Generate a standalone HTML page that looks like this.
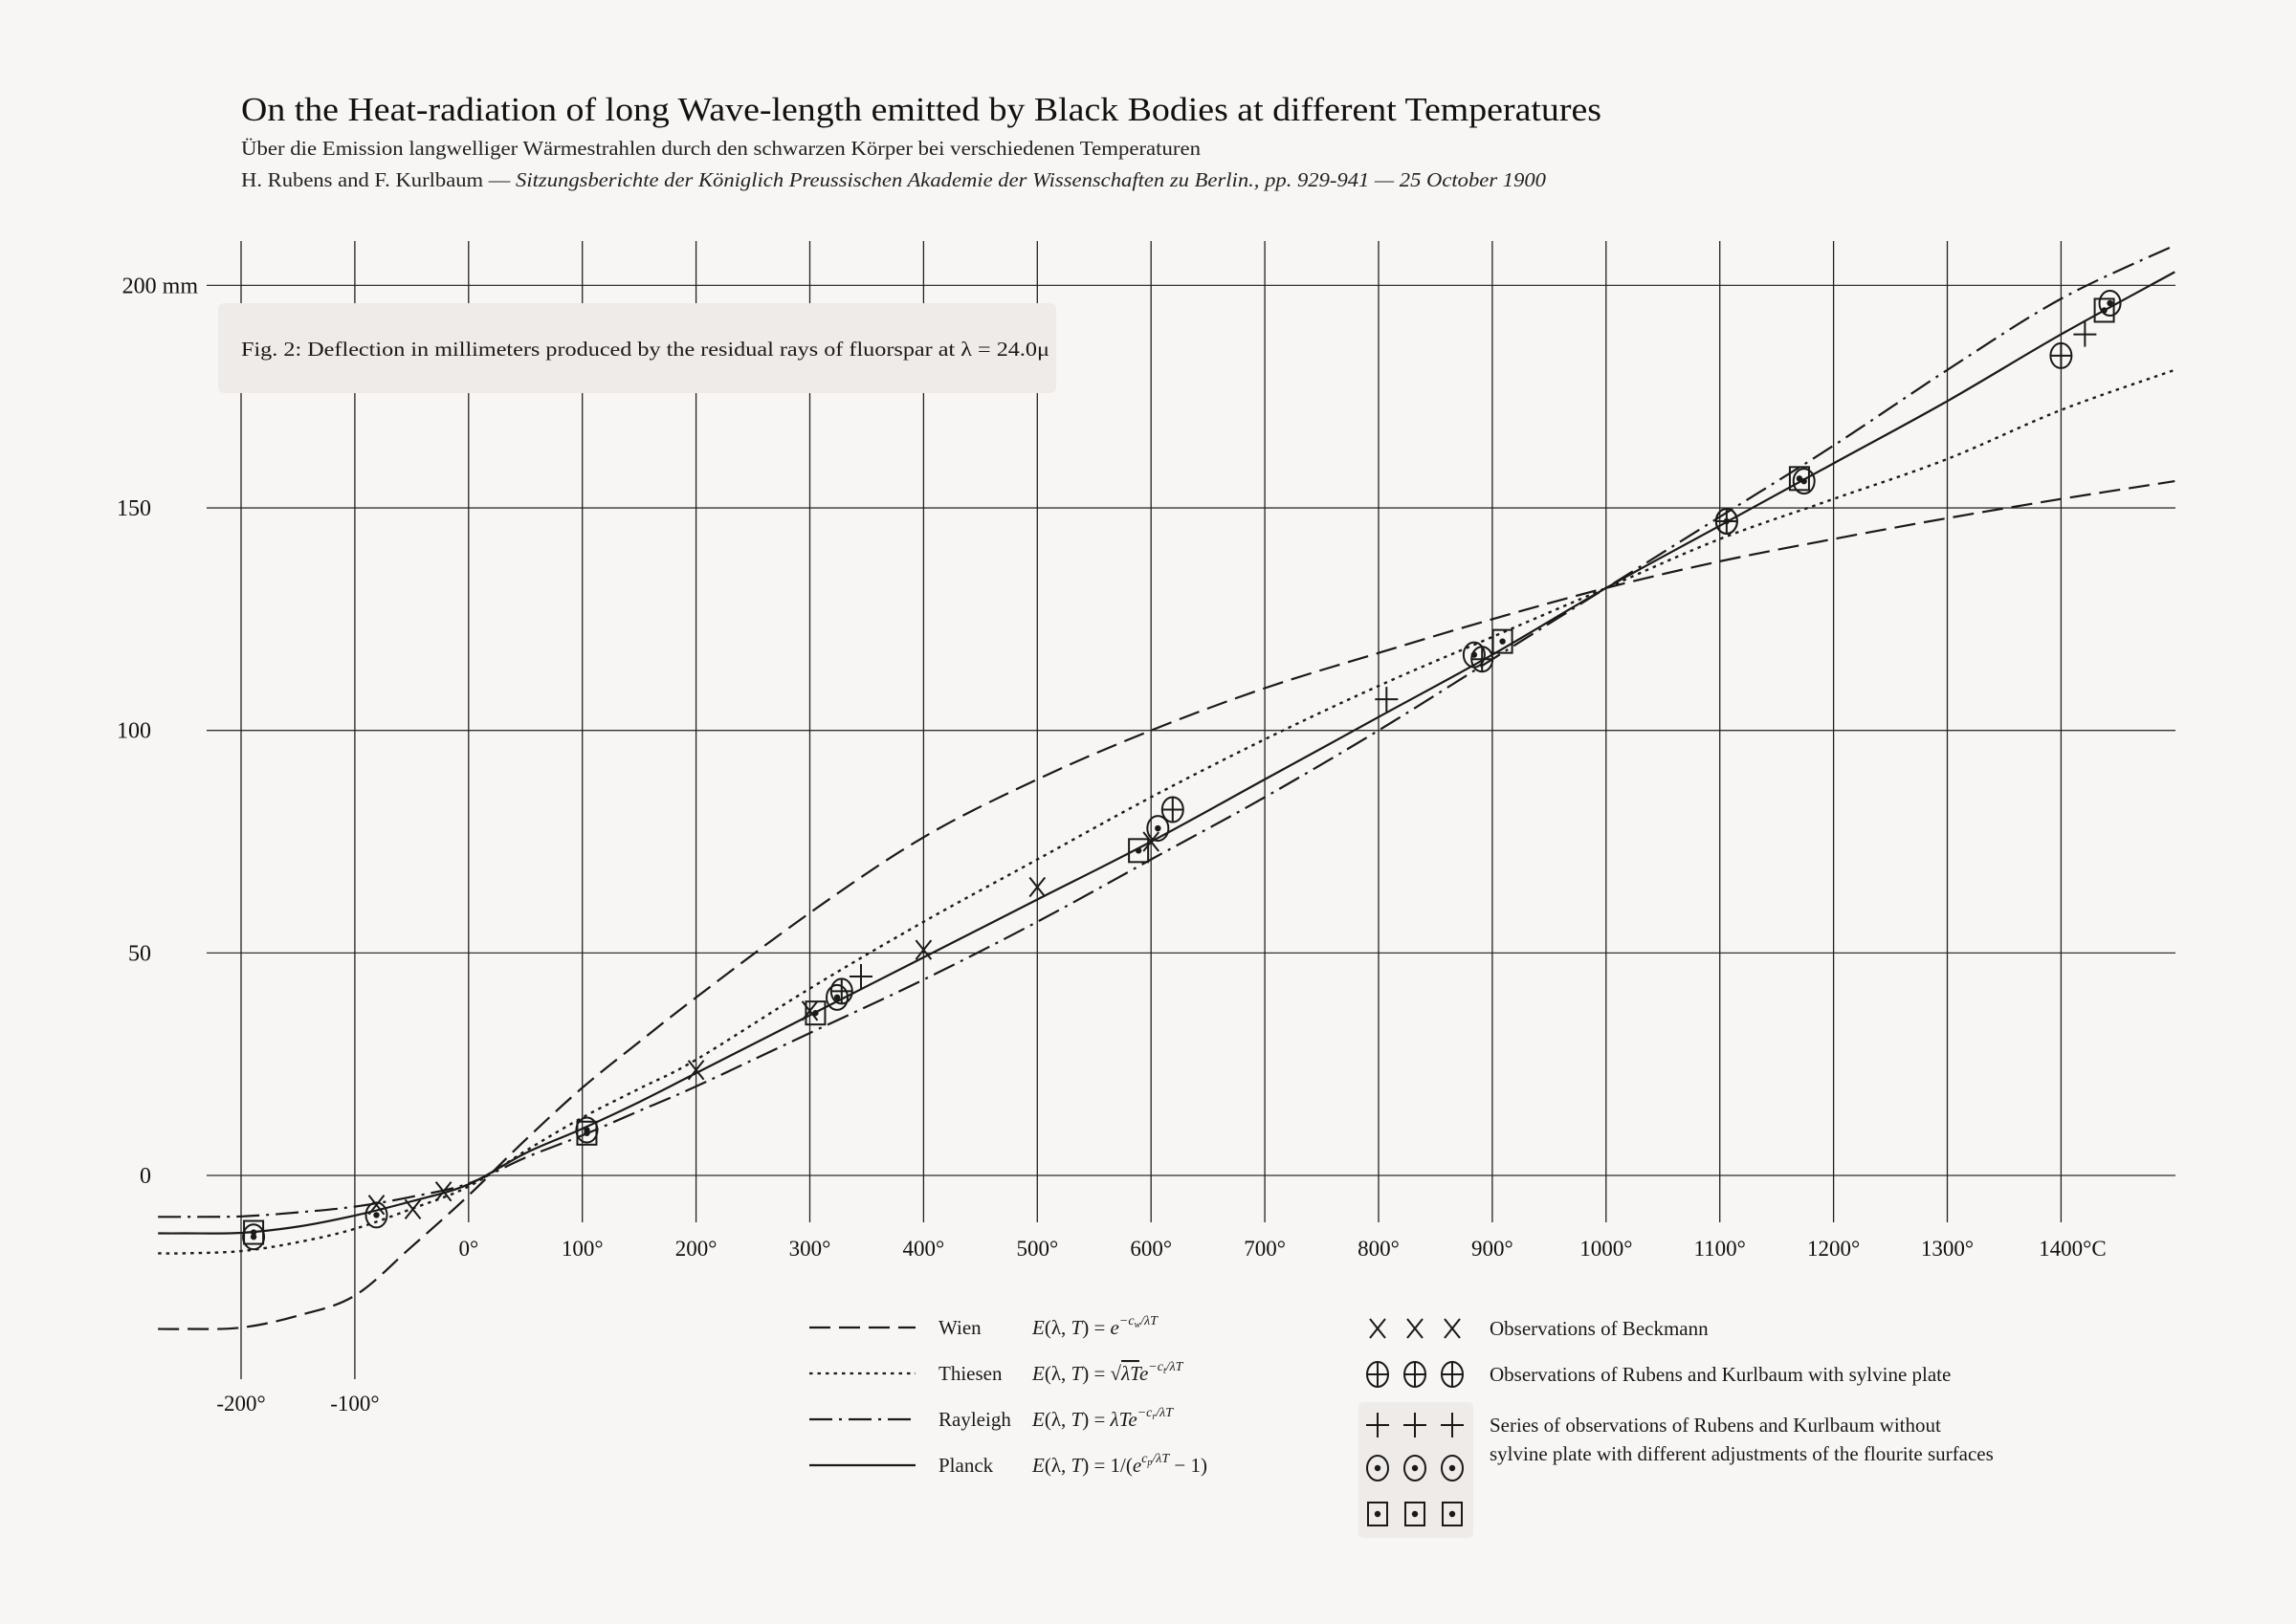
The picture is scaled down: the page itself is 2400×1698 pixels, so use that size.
<!DOCTYPE html>
<html><head><meta charset="utf-8"><title>Rubens & Kurlbaum 1900</title>
<style>
html,body{margin:0;padding:0;background:#f7f6f4;}
svg{display:block;font-family:"Liberation Serif","DejaVu Serif",serif;}
</style></head>
<body>
<svg id="chart" width="2400" height="1698" viewBox="0 0 2400 1698" xmlns="http://www.w3.org/2000/svg">
<rect x="0" y="0" width="2400" height="1698" fill="#f7f6f4"/>
<text x="252" y="126" font-size="35" fill="#111" textLength="1422" lengthAdjust="spacingAndGlyphs">On the Heat-radiation of long Wave-length emitted by Black Bodies at different Temperatures</text>
<text x="252" y="162" font-size="21" fill="#222" textLength="1003" lengthAdjust="spacingAndGlyphs">Über die Emission langwelliger Wärmestrahlen durch den schwarzen Körper bei verschiedenen Temperaturen</text>
<text x="252" y="195" font-size="21" fill="#222" textLength="1364" lengthAdjust="spacingAndGlyphs">H. Rubens and F. Kurlbaum — <tspan font-style="italic">Sitzungsberichte der Königlich Preussischen Akademie der Wissenschaften zu Berlin., pp. 929-941 — 25 October 1900</tspan></text>
<g id="grid"></g>
<rect x="228" y="317" width="876" height="94" rx="6" fill="#efebe9"/>
<text x="252" y="372" font-size="21" fill="#1a1a1a" textLength="845" lengthAdjust="spacingAndGlyphs">Fig. 2: Deflection in millimeters produced by the residual rays of fluorspar at λ = 24.0μ</text>
<g id="curves"></g>
<g id="marks"></g>
<g id="legend"></g>
</svg>
<script>
// ---- data ----
const xTicks = [-200,-100,0,100,200,300,400,500,600,700,800,900,1000,1100,1200,1300,1400];
const xTickLabels = ["-200°","-100°","0°","100°","200°","300°","400°","500°","600°","700°","800°","900°","1000°","1100°","1200°","1300°","1400°C"];
const yTicks = [0,50,100,150,200];
const yTickLabels = ["0","50","100","150","200 mm"];
const curveT = [-273,-250,-200,-150,-100,-50,0,50,100,150,200,300,400,500,600,700,800,900,1000,1100,1200,1300,1400,1500];
const wienVals     = [-34.5,-34.5,-34.2,-31.5,-27,-16,-4.5,8,19.7,30,40,59,76,89,100,109.5,117.4,125,132,138,143,147.7,152,156];
const thiesenVals  = [-17.5,-17.5,-17,-15,-12,-7.5,-2.5,5.5,13,19.5,26,42,57,71,85,98,110,121,132,143,152,161,172,181];
const rayleighVals = [-9.3,-9.3,-9.2,-8.3,-7,-4.8,-1.8,4,9,14.5,20,32,44,57,71,85,100,116,132,148,164,181,197,209];
const planckVals   = [-13,-13,-12.9,-11.5,-9,-5.8,-2,5,10.5,16.5,23,36,49,62,75,89,103,117,132,146,160,174,189,203];
const beckT = [-81,-49,-22,200,300,400,500,600];
const beckV = [-6.6,-7.6,-3.6,23.7,37,50.7,64.8,75];
const sylT = [328,619,891,1106,1400];
const sylV = [41.4,82.2,116,147,184.2];
const plusT = [345,807,1421];
const plusV = [44.7,107,189];
const dotT = [-189,-81,104,324,606,884,1106,1174,1443];
const dotV = [-13.8,-8.9,10.2,40,78,117,147,156,196];
const sqT = [-189,104,305,589,909,1170,1438];
const sqV = [-12.8,9.5,36.5,73,120,156.6,194.4];

// ---- scales ----
const NS = "http://www.w3.org/2000/svg";
function xs(t){ return 489.8 + t*1.189; }
function ys(v){ return 1229 - v*4.653; }
function mk(tag, attrs, parent){
  const e = document.createElementNS(NS, tag);
  for (const k in attrs) e.setAttribute(k, attrs[k]);
  parent.appendChild(e); return e;
}
const grid = document.getElementById('grid');
const X0 = 216, X1 = 2274;
yTicks.forEach((v,i)=>{
  const l = mk('line',{x1:X0,x2:X1,y1:ys(v),y2:ys(v),stroke:(v===0?'#666':'#333'),'stroke-width':(v===0?1.8:1.3)},grid);
  
  
  const lab = yTickLabels[i];
  const t = mk('text',{x:(lab.indexOf('mm')>=0?207:158),y:ys(v)+8,'font-size':24,'text-anchor':'end',fill:'#111'},grid);
  t.textContent = lab;
  
  
});
xTicks.forEach((T,i)=>{
  const low = T < 0 ? 1442 : 1278;
  const l = mk('line',{x1:xs(T),x2:xs(T),y1:252,y2:low,stroke:'#222','stroke-width':1.3},grid);
  
  
  const t = mk('text',{x:xs(T)+(i===xTicks.length-1?12:0),y:(T<0?1475:1313),'font-size':23,'text-anchor':'middle',fill:'#111'},grid);
  t.textContent = xTickLabels[i];
  
  
});

// ---- curves ----
function pathFrom(ts, vs){
  const p = ts.map((t,i)=>[xs(t),ys(vs[i])]);
  let d = 'M'+p[0][0].toFixed(1)+','+p[0][1].toFixed(1);
  for (let i=0;i<p.length-1;i++){
    const p0=p[Math.max(0,i-1)], p1=p[i], p2=p[i+1], p3=p[Math.min(p.length-1,i+2)];
    const c1=[p1[0]+(p2[0]-p0[0])/6, p1[1]+(p2[1]-p0[1])/6];
    const c2=[p2[0]-(p3[0]-p1[0])/6, p2[1]-(p3[1]-p1[1])/6];
    d += ' C'+c1[0].toFixed(1)+','+c1[1].toFixed(1)+' '+c2[0].toFixed(1)+','+c2[1].toFixed(1)+' '+p2[0].toFixed(1)+','+p2[1].toFixed(1);
  }
  return d;
}
const curves = document.getElementById('curves');
const wien = mk('path',{d:pathFrom(curveT,wienVals),fill:'none',stroke:'#1a1a1a','stroke-width':2.2,'stroke-dasharray':'22 9'},curves);


const thiesen = mk('path',{d:pathFrom(curveT,thiesenVals),fill:'none',stroke:'#1a1a1a','stroke-width':2.4,'stroke-dasharray':'3.5 5'},curves);


const rayleigh = mk('path',{d:pathFrom(curveT,rayleighVals),fill:'none',stroke:'#1a1a1a','stroke-width':2.2,'stroke-dasharray':'24 7 3 7'},curves);


const planck = mk('path',{d:pathFrom(curveT,planckVals),fill:'none',stroke:'#1a1a1a','stroke-width':2.2},curves);



// ---- markers ----
const S = '#1a1a1a';
function drawX(g,x,y){
  mk('line',{x1:x-8,y1:y-10,x2:x+8,y2:y+10,stroke:S,'stroke-width':2},g);
  mk('line',{x1:x-8,y1:y+10,x2:x+8,y2:y-10,stroke:S,'stroke-width':2},g);
}
function drawOPlus(g,x,y){
  mk('ellipse',{cx:x,cy:y,rx:11,ry:13,fill:'none',stroke:S,'stroke-width':2},g);
  mk('line',{x1:x-11,y1:y,x2:x+11,y2:y,stroke:S,'stroke-width':2},g);
  mk('line',{x1:x,y1:y-13,x2:x,y2:y+13,stroke:S,'stroke-width':2},g);
}
function drawPlus(g,x,y){
  mk('line',{x1:x-12,y1:y,x2:x+12,y2:y,stroke:S,'stroke-width':2},g);
  mk('line',{x1:x,y1:y-13,x2:x,y2:y+13,stroke:S,'stroke-width':2},g);
}
function drawODot(g,x,y){
  mk('ellipse',{cx:x,cy:y,rx:11,ry:13,fill:'none',stroke:S,'stroke-width':2},g);
  mk('circle',{cx:x,cy:y,r:3.2,fill:S},g);
}
function drawSqDot(g,x,y){
  mk('rect',{x:x-10,y:y-12,width:20,height:24,fill:'none',stroke:S,'stroke-width':2},g);
  mk('circle',{cx:x,cy:y,r:3.2,fill:S},g);
}
const marks = document.getElementById('marks');
function series(ts,vs,fn,name){
  ts.forEach((t,i)=>{
    const g = mk('g',{},marks);
    
    
    fn(g,xs(t),ys(vs[i]));
  });
}
series(sqT,sqV,drawSqDot,'square-dot-point');
series(dotT,dotV,drawODot,'circle-dot-point');
series(sylT,sylV,drawOPlus,'sylvine-point');
series(plusT,plusV,drawPlus,'plus-point');
series(beckT,beckV,drawX,'beckmann-point');

// ---- legend ----
const lg = document.getElementById('legend');
const legY = [1388,1436,1484,1532];
const legDash = ['22 9','3.5 5','24 7 3 7',''];
const legNames = ['Wien','Thiesen','Rayleigh','Planck'];
legNames.forEach((n,i)=>{
  const l = mk('line',{x1:846,x2:957,y1:legY[i],y2:legY[i],stroke:S,'stroke-width':2.2},lg);
  if (legDash[i]) l.setAttribute('stroke-dasharray',legDash[i]);
  
  
  const t = mk('text',{x:981,y:legY[i]+7,'font-size':21,fill:S},lg);
  t.textContent = n;
  
  
});
</script>
<script>
(function(){
  const svg = document.getElementById('chart');
  const NS = "http://www.w3.org/2000/svg";
  const f = document.createElementNS(NS,'g');
  
  
  f.innerHTML =
  '<text x="1079" y="1395" font-size="21" fill="#1a1a1a"><tspan font-style="italic">E</tspan>(λ, <tspan font-style="italic">T</tspan>) = <tspan font-style="italic">e</tspan><tspan font-size="14" dy="-10" font-style="italic">−c<tspan font-size="10" dy="3">w</tspan><tspan dy="-3">/λT</tspan></tspan></text>' +
  '<text x="1079" y="1443" font-size="21" fill="#1a1a1a"><tspan font-style="italic">E</tspan>(λ, <tspan font-style="italic">T</tspan>) = √<tspan text-decoration="overline" font-style="italic">λT</tspan><tspan font-style="italic">e</tspan><tspan font-size="14" dy="-10" font-style="italic">−c<tspan font-size="10" dy="3">t</tspan><tspan dy="-3">/λT</tspan></tspan></text>' +
  '<text x="1079" y="1491" font-size="21" fill="#1a1a1a"><tspan font-style="italic">E</tspan>(λ, <tspan font-style="italic">T</tspan>) = <tspan font-style="italic">λTe</tspan><tspan font-size="14" dy="-10" font-style="italic">−c<tspan font-size="10" dy="3">r</tspan><tspan dy="-3">/λT</tspan></tspan></text>' +
  '<text x="1079" y="1539" font-size="21" fill="#1a1a1a"><tspan font-style="italic">E</tspan>(λ, <tspan font-style="italic">T</tspan>) = 1/(<tspan font-style="italic">e</tspan><tspan font-size="14" dy="-10" font-style="italic">c<tspan font-size="10" dy="3">p</tspan><tspan dy="-3">/λT</tspan></tspan><tspan dy="10"> − 1)</tspan></text>' +
  '<rect x="1420" y="1466" width="120" height="142" rx="5" fill="#efebe9"/>' +
  '<text x="1557" y="1396" font-size="21" fill="#1a1a1a">Observations of Beckmann</text>' +
  '<text x="1557" y="1444" font-size="21" fill="#1a1a1a">Observations of Rubens and Kurlbaum with sylvine plate</text>' +
  '<text x="1557" y="1497" font-size="21" fill="#1a1a1a">Series of observations of Rubens and Kurlbaum without</text>' +
  '<text x="1557" y="1527" font-size="21" fill="#1a1a1a">sylvine plate with different adjustments of the flourite surfaces</text>';
  svg.appendChild(f);
  const S='#1a1a1a';
  function mk(tag,a,p){const e=document.createElementNS(NS,tag);for(const k in a)e.setAttribute(k,a[k]);p.appendChild(e);return e;}
  const xsL=[1440,1479,1518];
  xsL.forEach(x=>{
    const g1=mk('g',{},f);
    
    
    mk('line',{x1:x-8,y1:1379,x2:x+8,y2:1399,stroke:S,'stroke-width':2},g1);
    mk('line',{x1:x-8,y1:1399,x2:x+8,y2:1379,stroke:S,'stroke-width':2},g1);
    const g2=mk('g',{},f);
    
    
    mk('ellipse',{cx:x,cy:1437,rx:11,ry:13,fill:'none',stroke:S,'stroke-width':2},g2);
    mk('line',{x1:x-11,y1:1437,x2:x+11,y2:1437,stroke:S,'stroke-width':2},g2);
    mk('line',{x1:x,y1:1424,x2:x,y2:1450,stroke:S,'stroke-width':2},g2);
    const g3=mk('g',{},f);
    
    
    mk('line',{x1:x-12,y1:1490,x2:x+12,y2:1490,stroke:S,'stroke-width':2},g3);
    mk('line',{x1:x,y1:1477,x2:x,y2:1503,stroke:S,'stroke-width':2},g3);
    const g4=mk('g',{},f);
    
    
    mk('ellipse',{cx:x,cy:1535,rx:11,ry:13,fill:'none',stroke:S,'stroke-width':2},g4);
    mk('circle',{cx:x,cy:1535,r:3.2,fill:S},g4);
    const g5=mk('g',{},f);
    
    
    mk('rect',{x:x-10,y:1571,width:20,height:24,fill:'none',stroke:S,'stroke-width':2},g5);
    mk('circle',{cx:x,cy:1583,r:3.2,fill:S},g5);
  });
})();
</script>
</body></html>
